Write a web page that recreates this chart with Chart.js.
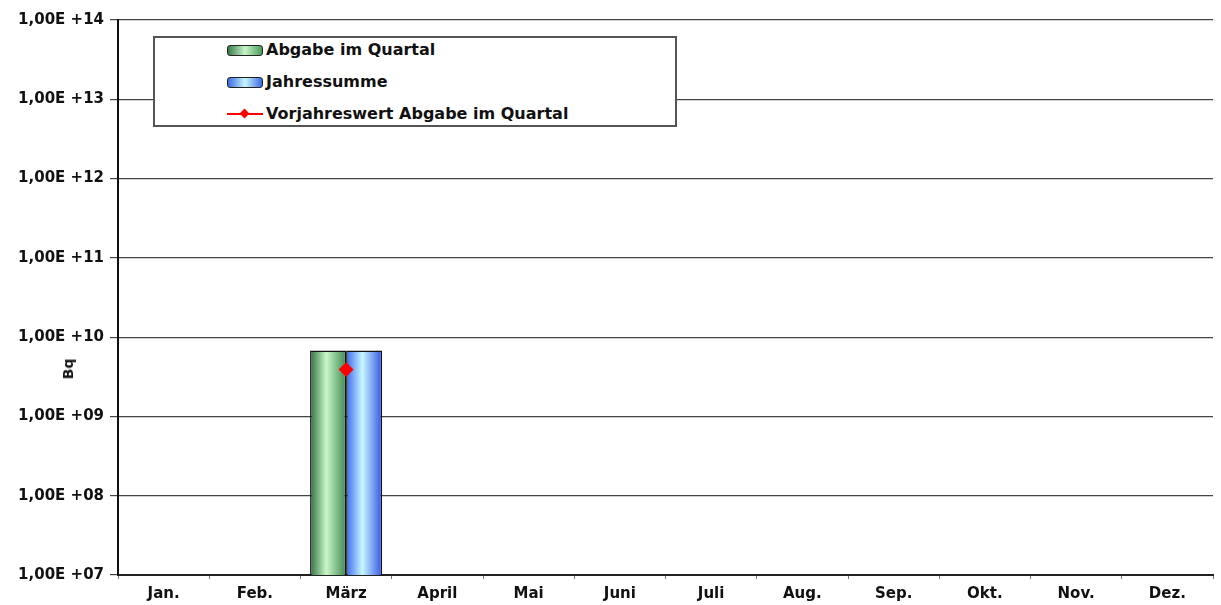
<!DOCTYPE html>
<html>
<head>
<meta charset="utf-8">
<script src="https://cdn.jsdelivr.net/npm/chart.js@4.4.1/dist/chart.umd.min.js"></script>
<style>
  html, body { margin: 0; padding: 0; background: #fff; }
  #wrap { position: relative; width: 1221px; height: 605px; }
  .legend {
    position: absolute; left: 153px; top: 36px; width: 524px; height: 91px;
    border: 2px solid #555; background: #fff; box-sizing: border-box;
    font: bold 16px "DejaVu Sans", sans-serif; color: #111;
  }
  .legend .row { position: absolute; left: 72px; height: 20px; line-height: 20px; white-space: nowrap; }
  .legend .sw { display: inline-block; width: 36px; height: 11px; margin-right: 3px; vertical-align: -1px;
    border: 1px solid #222; border-radius: 3px; box-sizing: border-box; }
  .legend .ln { display: inline-block; width: 36px; height: 11px; margin-right: 3px; position: relative; vertical-align: -1px; }
  .legend .ln:before { content: ""; position: absolute; left: 0; right: 0; top: 4px; height: 2px; background: #ff0000; }
  .legend .ln:after { content: ""; position: absolute; left: 14px; top: 1px; width: 7px; height: 7px; background: #ff0000; transform: rotate(45deg); }
  .ytitle { position: absolute; left: 68px; top: 369px; transform: translate(-50%, -50%) rotate(-90deg);
    font: bold 14px "DejaVu Sans", sans-serif; color: #111; }
</style>
</head>
<body>
<div id="wrap">
  <canvas id="chart" width="1221" height="605"></canvas>
  <div class="ytitle">Bq</div>
  <div class="legend">
    <div class="row" style="top:2px"><span class="sw" style="background:linear-gradient(90deg,#3a7a4a,#c8f5c8,#4a9a5a)"></span>Abgabe im Quartal</div>
    <div class="row" style="top:34px"><span class="sw" style="background:linear-gradient(90deg,#3a6ae0,#c8f5ff,#3a6ae0)"></span>Jahressumme</div>
    <div class="row" style="top:66px"><span class="ln"></span>Vorjahreswert Abgabe im Quartal</div>
  </div>
</div>
<script>
// data
const months = ["Jan.", "Feb.", "März", "April", "Mai", "Juni", "Juli", "Aug.", "Sep.", "Okt.", "Nov.", "Dez."];
const abgabeQuartal = [null, null, 6.8e9, null, null, null, null, null, null, null, null, null];
const jahressumme = [null, null, 6.8e9, null, null, null, null, null, null, null, null, null];
const vorjahreswert = [null, null, 3.9e9, null, null, null, null, null, null, null, null, null];
const yTicks = [1e7, 1e8, 1e9, 1e10, 1e11, 1e12, 1e13, 1e14];

// horizontal cylinder-like shading on bars (only for bars that have a value)
const barShade = {
  id: "barShade",
  beforeDatasetsDraw(chart) {
    const c = chart.ctx;
    const shades = [
      ["#2f7040", "#c9f7c9", "#3f8a50"],
      ["#3a68f0", "#c8f7ff", "#3355e8"]
    ];
    [0, 1].forEach((di) => {
      const vals = chart.data.datasets[di].data;
      chart.getDatasetMeta(di).data.forEach((bar, i) => {
        if (vals[i] == null) return;
        const l = bar.x - bar.width / 2, r = bar.x + bar.width / 2;
        const g = c.createLinearGradient(l, 0, r, 0);
        g.addColorStop(0, shades[di][0]);
        g.addColorStop(0.45, shades[di][1]);
        g.addColorStop(1, shades[di][2]);
        bar.options = Object.assign({}, bar.options, { backgroundColor: g });
      });
    });
  }
};

new Chart(document.getElementById("chart"), {
  data: {
    labels: months,
    datasets: [
      {
        type: "bar", label: "Abgabe im Quartal", data: abgabeQuartal,
        backgroundColor: "#8fd08f", borderColor: "#111", borderWidth: 1.5,
        categoryPercentage: 0.79, barPercentage: 1.0, order: 2
      },
      {
        type: "bar", label: "Jahressumme", data: jahressumme,
        backgroundColor: "#8fc0ff", borderColor: "#111", borderWidth: 1.5,
        categoryPercentage: 0.79, barPercentage: 1.0, order: 2
      },
      {
        type: "line", label: "Vorjahreswert Abgabe im Quartal", data: vorjahreswert,
        borderColor: "#ff0000", backgroundColor: "#ff0000", borderWidth: 2,
        pointStyle: "rectRot", pointRadius: 6, showLine: false, order: 1
      }
    ]
  },
  plugins: [barShade],
  options: {
    responsive: false,
    animation: false,
    layout: { padding: { top: 20, right: 0, left: 0, bottom: 0 } },
    plugins: { legend: { display: false }, tooltip: { enabled: false } },
    scales: {
      x: {
        offset: true,
        afterFit(scale) { scale.height = 30; },
        grid: { display: true, drawOnChartArea: false, offset: true, tickLength: 4, color: "#777" },
        border: { color: "#222", width: 2 },
        ticks: { color: "#111", font: { family: "DejaVu Sans", size: 15, weight: "bold" }, padding: 6, maxRotation: 0 }
      },
      y: {
        type: "logarithmic",
        min: 1e7, max: 1e14,
        afterBuildTicks(scale) { scale.ticks = yTicks.map((v) => ({ value: v })); },
        afterFit(scale) { scale.width = 118; },
        grid: { color: "#444", lineWidth: 1.2, tickLength: 8 },
        border: { color: "#111", width: 2 },
        ticks: {
          color: "#111", padding: 6,
          font: { family: "DejaVu Sans", size: 15, weight: "bold" },
          callback: (v) => "1,00E +" + String(Math.round(Math.log10(v))).padStart(2, "0")
        }
      }
    }
  }
});
</script>
</body>
</html>
